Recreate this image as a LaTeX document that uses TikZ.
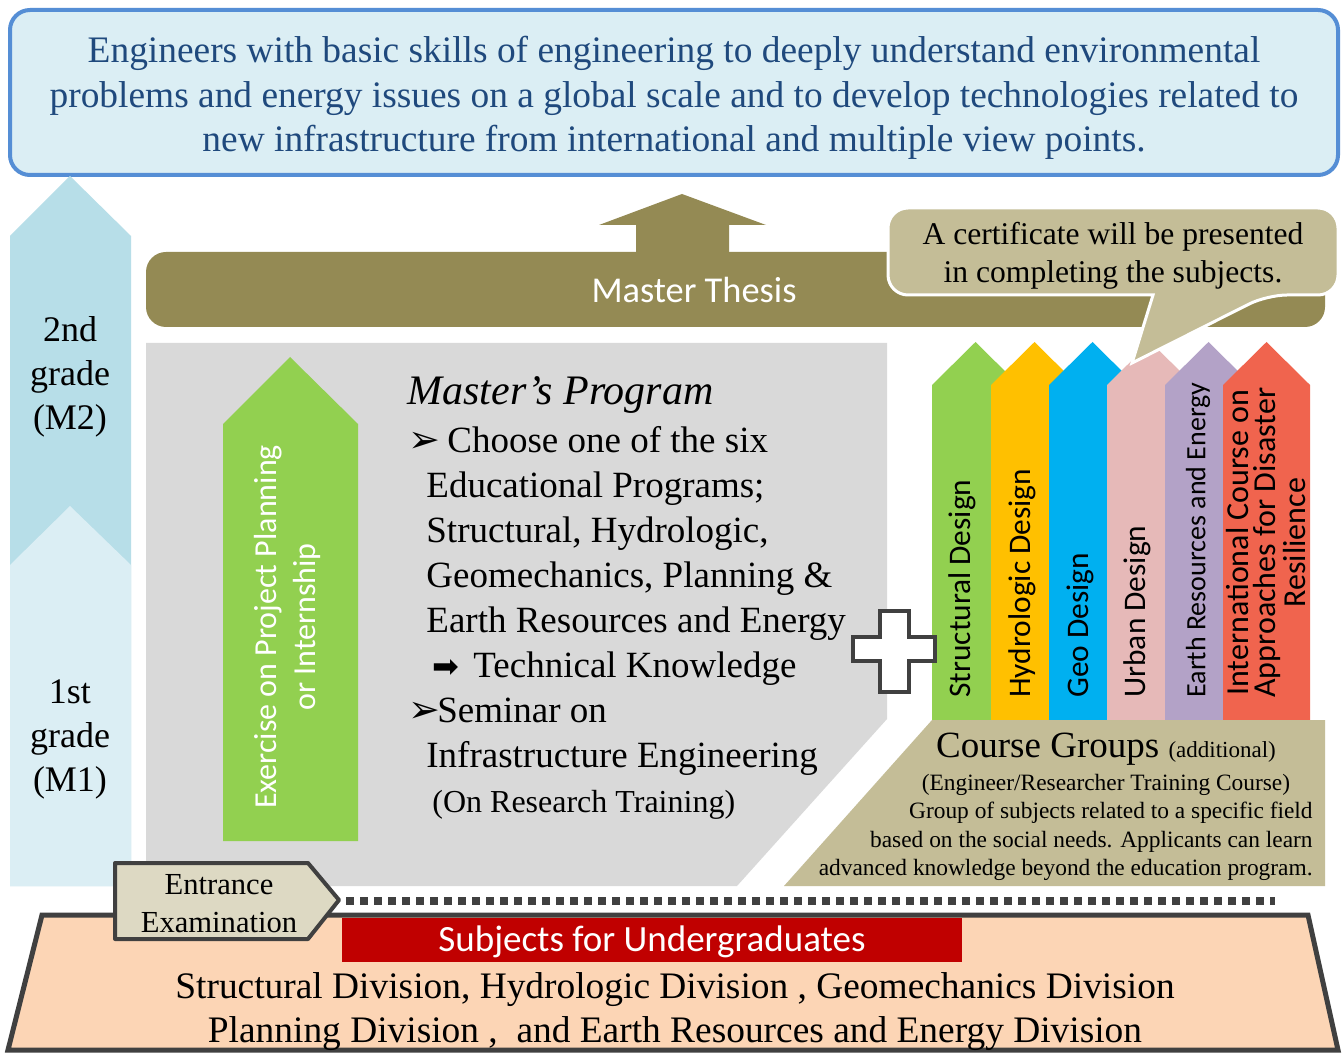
\documentclass[tikz,border=0pt]{standalone}
\usepackage{fontspec}
\setmainfont{Liberation Serif}
\newfontfamily\calibri{Carlito}
\newfontfamily\symf{DejaVu Sans}
\definecolor{topblue}{HTML}{DBEEF4}
\definecolor{topedge}{HTML}{558ED5}
\definecolor{toptext}{HTML}{1F497D}
\definecolor{gradetwo}{HTML}{B7DEE8}
\definecolor{gradeone}{HTML}{DBEEF4}
\definecolor{thesis}{HTML}{948A54}
\definecolor{certtan}{HTML}{C4BD97}
\definecolor{progray}{HTML}{D9D9D9}
\definecolor{exgreen}{HTML}{92D050}
\definecolor{cyellow}{HTML}{FFC000}
\definecolor{cblue}{HTML}{00B0F0}
\definecolor{cpink}{HTML}{E6B9B8}
\definecolor{cpurple}{HTML}{B3A2C7}
\definecolor{cred}{HTML}{F0644E}
\definecolor{darkedge}{HTML}{404040}
\definecolor{entfill}{HTML}{DDD9C3}
\definecolor{peach}{HTML}{FCD5B5}
\definecolor{subred}{HTML}{C00000}

\begin{document}
\begin{tikzpicture}[x=0.5pt,y=-0.5pt,
  prog/.style={inner sep=0pt,anchor=base west,font=\fontsize{18.5}{22.5}\selectfont},
  bul/.style={inner sep=0pt,anchor=base west,font=\symf\fontsize{19}{19}\selectfont},
  cg/.style={inner sep=0pt,font=\fontsize{11.7}{14}\selectfont},
  coltext/.style={inner sep=0pt,rotate=90,anchor=west,align=center}]
\useasboundingbox (0,0) rectangle (1342,1058);
\fill[white] (0,0) rectangle (1342,1058);
% goal box
\draw[topedge,line width=2pt,fill=topblue,rounded corners=10pt] (10,10) rectangle (1338,175);
\node[align=center,text=toptext,font=\fontsize{18.7}{22.3}\selectfont] (goal) at (674,98)
  {Engineers with basic skills of engineering to deeply understand environmental\\
   problems and energy issues on a global scale and to develop technologies related to\\
   new infrastructure from international and multiple view points.};
% grade arrows
\fill[gradetwo] (10,886) -- (10,236) -- (70,176) -- (131,236) -- (131,886) -- cycle;
\fill[gradeone] (10,886) -- (10,565) -- (70,506) -- (131,565) -- (131,886) -- cycle;
\node[align=center,font=\fontsize{18}{22}\selectfont] (mtwo) at (70,377) {2nd\\grade\\(M2)};
\node[align=center,font=\fontsize{18}{22}\selectfont] (mone) at (70,739) {1st\\grade\\(M1)};
% master thesis
\fill[thesis,rounded corners=10pt] (146,252) rectangle (1325,327);
\fill[thesis] (636,253) -- (636,225) -- (599,225) -- (682,194) -- (766,225) -- (729,225) -- (729,253) -- cycle;
\node[text=white,font=\calibri\fontsize{18.2}{22}\selectfont] (thesis) at (694,290) {Master Thesis};
% master's program
\fill[progray] (146,343) -- (887,343) -- (887,719) -- (737,886) -- (146,886) -- cycle;
\fill[exgreen] (223,841) -- (223,424) -- (290,357) -- (358,424) -- (358,841) -- cycle;
\node[rotate=90,align=center,text=white,font=\calibri\fontsize{16}{19.5}\selectfont] (exer) at (287,627)
  {Exercise on Project Planning\\or Internship};
\node[prog,font=\itshape\fontsize{21}{25}\selectfont] (mp) at (407,405) {Master’s Program};
\node[bul] (b1) at (408,452) {➢};
\node[prog] (p1) at (447,452) {Choose one of the six};
\node[prog] (p2) at (426,497) {Educational Programs;};
\node[prog] (p3) at (426,542) {Structural, Hydrologic,};
\node[prog] (p4) at (426,587) {Geomechanics, Planning \&};
\node[prog] (p5) at (426,632) {Earth Resources and Energy};
\node[bul,font=\symf\fontsize{16}{16}\selectfont] (b2) at (432,677) {➡};
\node[prog] (p6) at (473,677) {Technical Knowledge};
\node[bul] (b3) at (408,722) {➢};
\node[prog] (p7) at (437,722) {Seminar on};
\node[prog] (p8) at (426,767) {Infrastructure Engineering};
\node[prog,font=\fontsize{16}{19}\selectfont] (p9) at (432,812) {(On Research Training)};
% course groups
\foreach \lx/\col/\cx/\fs/\lbl [count=\i] in {932/exgreen/962/15.7/{Structural Design},
    991/cyellow/1022/15.7/{Hydrologic Design}, 1049/cblue/1080/15.7/{Geo Design},
    1107/cpink/1137/15.7/{Urban Design}, 1165/cpurple/1198/14/{Earth Resources and Energy},
    1223/cred/1266/16/{International Course on\\Approaches for Disaster\\Resilience}}{
  \fill[\col] (\lx,720) -- (\lx,385) -- ({\lx+43.5},342) -- ({\lx+87},385) -- ({\lx+87},720) -- cycle;
  \node[coltext,font=\calibri\fontsize{\fs}{13.5}\selectfont] (grp\i) at (\cx,698) {\lbl};
}
\fill[certtan] (784,886) -- (932,720) -- (1325,720) -- (1325,886) -- cycle;
\node[cg,anchor=base,font=\fontsize{18.5}{22}\selectfont] (cg1) at (1106,757)
  {Course Groups {\fontsize{11.5}{14}\selectfont (additional)}};
\node[cg,anchor=base] (cg2) at (1106,790) {(Engineer/Researcher Training Course)};
\node[cg,anchor=base east] (cg3) at (1313,818) {Group of subjects related to a specific field};
\node[cg,anchor=base east] (cg4) at (1313,847) {based on the social needs. Applicants can learn};
\node[cg,anchor=base east] (cg5) at (1313,875) {advanced knowledge beyond the education program.};
% certificate callout
\draw[white,line width=1.5pt,fill=certtan,rounded corners=10pt] (1153,295) -- (888,295) -- (888,208)
  -- (1338,208) -- (1338,295) -- (1267,295) [sharp corners] -- (1132,363) -- cycle;
\node[align=center,font=\fontsize{15.8}{19}\selectfont] (cert) at (1113,256)
  {A certificate will be presented\\in completing the subjects.};
% plus
\draw[darkedge,line width=2pt,fill=white] (880,611) -- (909,611) -- (909,637) -- (935,637) -- (935,661)
  -- (909,661) -- (909,692) -- (880,692) -- (880,661) -- (853,661) -- (853,637) -- (880,637) -- cycle;
% undergraduates
\draw[darkedge,line width=2.5pt,fill=peach] (42,915) -- (1308,915) -- (1338,1050) -- (8,1050) -- cycle;
\fill[subred] (342,918) rectangle (962,962);
\node[text=white,font=\calibri\fontsize{18.5}{22}\selectfont] (under) at (652,942) {Subjects for Undergraduates};
\node[align=center,font=\fontsize{18.7}{22}\selectfont] (divs) at (675,1012)
  {Structural Division, Hydrologic Division , Geomechanics Division\\
   Planning Division ,\ \ and Earth Resources and Energy Division};
% entrance
\draw[darkedge,line width=2pt,fill=entfill,line join=round] (115,863) -- (308,863) -- (339,900)
  -- (308,939) -- (115,939) -- cycle;
\node[align=center,font=\fontsize{15.3}{19}\selectfont] (entr) at (219,904) {Entrance\\Examination};
\coordinate (dotstart) at (346,901);
\coordinate (dotend) at (1275,901);
\draw[darkedge,line width=4pt,dash pattern=on 4pt off 3pt] (dotstart) -- (dotend);
\end{tikzpicture}
\end{document}
